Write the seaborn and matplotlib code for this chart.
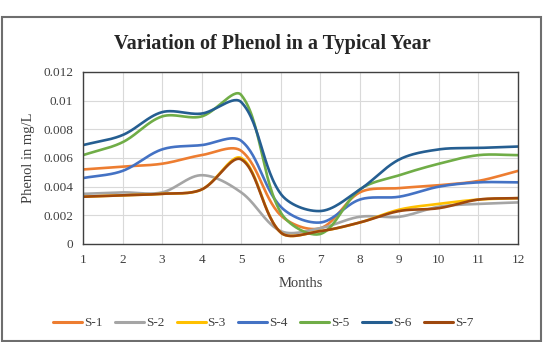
import numpy as np
import pandas as pd
import matplotlib
matplotlib.use('Agg')
import matplotlib.pyplot as plt
import seaborn as sns
from matplotlib.patches import Rectangle

# data (mg/L per month)
months = list(range(1, 13))
s1 = [0.0052, 0.0054, 0.0056, 0.0062, 0.0065, 0.0020, 0.0011, 0.0036, 0.0039, 0.0041, 0.0044, 0.0051]
s2 = [0.0035, 0.0036, 0.0036, 0.0048, 0.0036, 0.0009, 0.0011, 0.0019, 0.0019, 0.0026, 0.0028, 0.0029]
s3 = [0.0033, 0.0034, 0.0035, 0.0038, 0.0060, 0.0008, 0.0009, 0.0015, 0.0024, 0.0028, 0.0031, 0.0032]
s4 = [0.0046, 0.0051, 0.0066, 0.0069, 0.0072, 0.0026, 0.0015, 0.0031, 0.0033, 0.0040, 0.0043, 0.0043]
s5 = [0.0062, 0.0071, 0.0089, 0.0089, 0.0104, 0.0022, 0.0007, 0.0038, 0.0048, 0.0056, 0.0062, 0.0062]
s6 = [0.0069, 0.0076, 0.0092, 0.0091, 0.0099, 0.0035, 0.0023, 0.0038, 0.0059, 0.0066, 0.0067, 0.0068]
s7 = [0.0033, 0.0034, 0.0035, 0.0038, 0.0059, 0.0008, 0.0009, 0.0015, 0.0023, 0.0025, 0.0031, 0.0032]

names = ['S-1', 'S-2', 'S-3', 'S-4', 'S-5', 'S-6', 'S-7']
series = [s1, s2, s3, s4, s5, s6, s7]
colors = ['#ED7D31', '#A5A5A5', '#FFC000', '#4472C4', '#70AD47', '#255E91', '#9E480E']

# approx screen scale (px per unit) so the smoothing weights look like Excel's
XS, YS = 39.5, 14300.0


def smooth(x, y, n=30):
    # smoothed line: bezier segments, tangents weighted by neighbouring chord lengths
    p = np.column_stack([np.asarray(x, float) * XS, np.asarray(y, float) * YS])
    m = len(p)
    d = np.linalg.norm(np.diff(p, axis=0), axis=1)
    cout = np.zeros_like(p)
    cin = np.zeros_like(p)
    for i in range(m):
        a = p[max(i - 1, 0)]
        b = p[min(i + 1, m - 1)]
        din = d[i - 1] if i > 0 else 0.0
        dout = d[i] if i < m - 1 else 0.0
        tot = din + dout
        D = b - a
        cout[i] = p[i] + D * (dout / tot) / 3 if tot > 0 else p[i]
        cin[i] = p[i] - D * (din / tot) / 3 if tot > 0 else p[i]
    t = np.linspace(0, 1, n, endpoint=False)[:, None]
    pts = []
    for i in range(m - 1):
        b = (1 - t) ** 3 * p[i] + 3 * (1 - t) ** 2 * t * cout[i] \
            + 3 * (1 - t) * t ** 2 * cin[i + 1] + t ** 3 * p[i + 1]
        pts.append(b)
    pts.append(p[-1:])
    pts = np.vstack(pts)
    return pts[:, 0] / XS, pts[:, 1] / YS


rows = []
for name, vals in zip(names, series):
    xs, ys = smooth(months, vals)
    for a, b in zip(xs, ys):
        rows.append({'Months': a, 'Phenol': b, 'Station': name})
df = pd.DataFrame(rows)

sns.set_style('white')
plt.rcParams['font.family'] = ['Liberation Serif', 'DejaVu Serif']

fig = plt.figure(figsize=(5.45, 3.42), dpi=100)
ax = fig.add_axes([83 / 545, 1 - 244 / 342, (518 - 83) / 545, (244 - 72) / 342])

sns.lineplot(data=df, x='Months', y='Phenol', hue='Station', palette=colors,
             sort=False, estimator=None, linewidth=1.9, ax=ax)

ax.set_xlim(1, 12)
ax.set_ylim(0, 0.012)
ax.set_xticks(months)
ax.set_xticklabels([str(m) for m in months])
yt = [0, 0.002, 0.004, 0.006, 0.008, 0.010, 0.012]
ax.set_yticks(yt)
ax.set_yticklabels(['0', '0.002', '0.004', '0.006', '0.008', '0.01', '0.012'])
ax.tick_params(axis='both', length=0, labelsize=9.5, colors='#404040', pad=7)
ax.grid(True, color='#D9D9D9', linewidth=0.8)
for sp in ax.spines.values():
    sp.set_color('#404040')
    sp.set_linewidth(1.0)

ax.set_xlabel('Months', fontsize=10.5, color='#404040', labelpad=8)
ax.set_ylabel('Phenol in mg/L', fontsize=10.5, color='#404040', labelpad=6)
fig.text(0.5, 1 - 44 / 342, 'Variation of Phenol in a Typical Year', ha='center', va='center',
         fontsize=14.5, fontweight='bold')

handles, labels = ax.get_legend_handles_labels()
ax.get_legend().remove()
for h in handles:
    h.set_linewidth(2.2)
fig.legend(handles, labels, loc='center', bbox_to_anchor=(263 / 545, 1 - 323 / 342), ncol=7,
           frameon=False, fontsize=9.5, handlelength=2.2, handletextpad=0.15,
           columnspacing=0.95, labelcolor='#404040')

fig.patches.append(Rectangle((2 / 545, 1 - 341 / 342), 539 / 545, 324 / 342, transform=fig.transFigure,
                             fill=False, edgecolor='#6E6E6E', linewidth=1.5))

fig.savefig('out.png', dpi=100)
